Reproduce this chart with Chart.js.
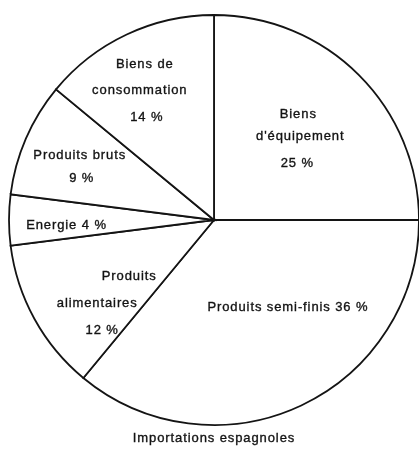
<!DOCTYPE html>
<html lang="fr">
<head>
<meta charset="utf-8">
<title>Importations espagnoles</title>
<script src="https://cdn.jsdelivr.net/npm/chart.js@4/dist/chart.umd.min.js"></script>
<style>
  html, body { margin: 0; padding: 0; background: #fff; }
  #box { width: 419px; height: 453px; }
</style>
</head>
<body>
<div id="box"><canvas id="pie" width="419" height="453"></canvas></div>
<script>
// Données (en %)
const categories = ['Biens d\'équipement', 'Produits semi-finis', 'Produits alimentaires', 'Energie', 'Produits bruts', 'Biens de consommation'];
const parts = [25, 36, 12, 4, 9, 14];
const chartTitle = 'Importations espagnoles';

// Texte affiché dans chaque part (lignes)
const sliceText = [
    ['Biens', 'd\'équipement', '25 %'],
    ['Produits semi-finis 36 %'],
    ['Produits', 'alimentaires', '12 %'],
    ['Energie 4 %'],
    ['Produits bruts', '9 %'],
    ['Biens de', 'consommation', '14 %']
];

// Placement des textes : t = fraction de l'angle de la part, d = fraction du rayon,
// lines = décalages (px) de chaque ligne par rapport au point d'ancrage
const textPlacement = [
    { t: 0.51, d: 0.586, lines: [[-2, -22], [0, 0], [-3, 27]] },
    { t: 0.383, d: 0.557, lines: [[0, 0]] },
    { t: 0.29, d: 0.66, lines: [[22, -27], [-10, 0], [-5, 27]] },
    { t: 0.35, d: 0.72, lines: [[0, 0]] },
    { t: 0.45, d: 0.70, lines: [[-1, -11.5], [1, 11.5]] },
    { t: 0.41, d: 0.73, lines: [[5, -26], [0, 0], [7, 27]] }
];

const FONT = '13px "Liberation Sans", Arial, Helvetica, sans-serif';
const INK = '#141414';

// Plugin pour écrire les étiquettes et le titre
const labelsPlugin = {
    id: 'sliceLabels',
    afterDraw(chart) {
        const ctx = chart.ctx;
        const arcs = chart.getDatasetMeta(0).data;
        ctx.save();
        ctx.font = FONT;
        ctx.fillStyle = INK;
        ctx.strokeStyle = INK;
        ctx.lineWidth = 0.35;
        ctx.textAlign = 'center';
        ctx.textBaseline = 'middle';
        if ('letterSpacing' in ctx) ctx.letterSpacing = '0.9px';

        const write = (txt, x, y) => {
            ctx.fillText(txt, x, y);
            ctx.strokeText(txt, x, y); // un peu plus gras, comme l'impression
        };

        arcs.forEach((arc, i) => {
            const p = textPlacement[i];
            const a = arc.startAngle + p.t * (arc.endAngle - arc.startAngle);
            const ax = arc.x + Math.cos(a) * p.d * arc.outerRadius;
            const ay = arc.y + Math.sin(a) * p.d * arc.outerRadius;
            sliceText[i].forEach((line, j) => {
                const off = p.lines[j];
                write(line, ax + off[0], ay + off[1]);
            });
        });

        // titre sous le cercle
        const first = arcs[0];
        write(chartTitle, first.x, first.y + first.outerRadius + 13);
        ctx.restore();
    }
};

new Chart(document.getElementById('pie'), {
    type: 'pie',
    data: {
        labels: categories,
        datasets: [{
            data: parts,
            backgroundColor: '#ffffff',
            borderColor: INK,
            borderWidth: 1.8,
            borderJoinStyle: 'miter'
        }]
    },
    options: {
        responsive: false,
        animation: false,
        radius: 205,
        layout: { padding: { left: 9, right: 0, top: 0, bottom: 13 } },
        plugins: {
            legend: { display: false },
            tooltip: { enabled: false },
            title: { display: false }
        }
    },
    plugins: [labelsPlugin]
});
</script>
</body>
</html>
